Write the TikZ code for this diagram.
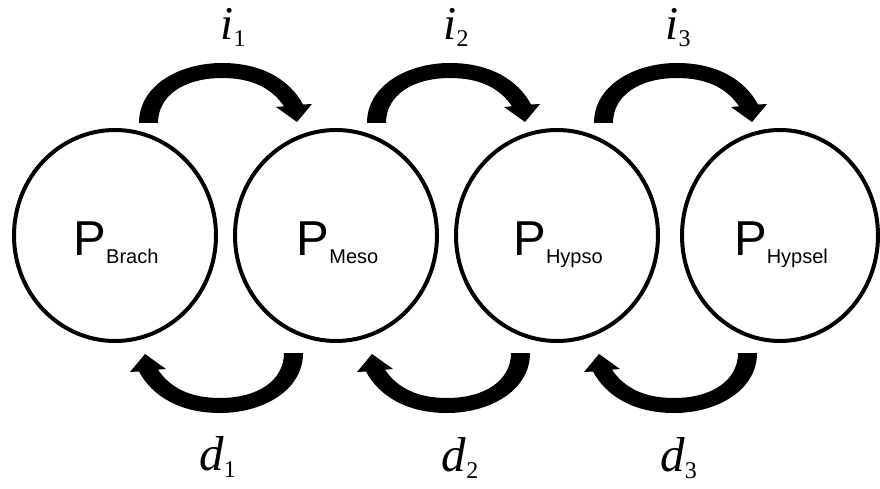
\documentclass[tikz,border=0pt]{standalone}
\usepackage{fontspec}
\setmainfont{Liberation Serif}
\newfontfamily\arialfont{Liberation Sans}
\usetikzlibrary{shapes.geometric}
\tikzset{
  popstate/.style={draw=black, line width=4pt, ellipse, minimum width=202pt, minimum height=211pt, inner sep=0pt},
  poplabel/.style={inner sep=0pt, anchor=base, font=\arialfont},
  ratelabel/.style={inner sep=0pt, anchor=base},
  pics/curvarrow/.style={code={
    \fill[black] (0,0) .. controls (0,-38) and (41,-60) .. (83,-60)
      .. controls (123,-60) and (151,-43) .. (164,-18.5)
      -- (173,-19) -- (158,-1) -- (137,-16) -- (145,-16.7)
      .. controls (132,-36) and (111,-45) .. (83,-45)
      .. controls (46,-45) and (19,-28) .. (19,0) -- cycle;
  }}
}
\newcommand{\popname}[1]{{\fontsize{49}{50}\selectfont P}\raisebox{-8pt}{\fontsize{20}{22}\selectfont #1}}
\newcommand{\ratename}[3]{{\fontsize{#3}{50}\selectfont\itshape #1}\raisebox{-7pt}{\fontsize{24}{26}\selectfont #2}}
\begin{document}
\begin{tikzpicture}[x=1pt, y=-1pt]
\useasboundingbox (0,0) rectangle (880,489);
\node[popstate] (brach) at (115,235.5) {};
\node[popstate] (meso) at (336,235.5) {};
\node[popstate] (hypso) at (557,235.5) {};
\node[popstate, minimum width=196pt] (hypsel) at (780,235.5) {};
\node[poplabel] (brachT) at (116,255) {\popname{Brach}};
\node[poplabel] (mesoT) at (337.5,255) {\popname{Meso}};
\node[poplabel] (hypsoT) at (558,255) {\popname{Hypso}};
\node[poplabel] (hypselT) at (781,255) {\popname{Hypsel}};
\pic at (139,123) {curvarrow};
\pic at (367,123) {curvarrow};
\pic at (594,123) {curvarrow};
\pic[rotate=180] at (303,353) {curvarrow};
\pic[rotate=180] at (530,353) {curvarrow};
\pic[rotate=180] at (757,353) {curvarrow};
\node[ratelabel] (i1) at (233,40) {\ratename{i}{1}{47}};
\node[ratelabel] (i2) at (456,40) {\ratename{i}{2}{47}};
\node[ratelabel] (i3) at (678,40) {\ratename{i}{3}{47}};
\node[ratelabel] (d1) at (217.5,470) {\ratename{d}{1}{49}};
\node[ratelabel] (d2) at (460,471) {\ratename{d}{2}{49}};
\node[ratelabel] (d3) at (678.5,471) {\ratename{d}{3}{49}};
\end{tikzpicture}
\end{document}
